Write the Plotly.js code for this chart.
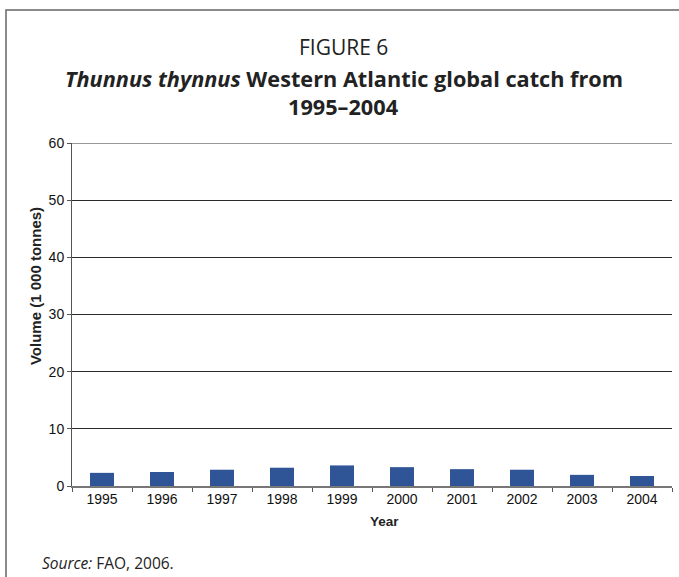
<!DOCTYPE html>
<html>
<head>
<meta charset="utf-8">
<script src="https://cdn.plot.ly/plotly-3.0.1.min.js"></script>
<style>
  html, body { margin: 0; padding: 0; background: #fff; }
  #chart { width: 679px; height: 577px; }
</style>
</head>
<body>
<div id="chart"></div>
<script>
// Western Atlantic bluefin tuna catch, thousand tonnes
const years = ['1995', '1996', '1997', '1998', '1999', '2000', '2001', '2002', '2003', '2004'];
const catchVolume = [2.3, 2.45, 2.85, 3.2, 3.6, 3.3, 2.95, 2.85, 1.95, 1.75];
const yTicks = [0, 10, 20, 30, 40, 50, 60];
const yMax = 60;

const tickFont = { family: 'Liberation Sans, Arial, sans-serif', size: 14, color: '#111' };

const trace = {
  type: 'bar',
  x: years,
  y: catchVolume,
  marker: { color: '#2f5597', line: { width: 0 } },
  hoverinfo: 'x+y'
};

const layout = {
  width: 679,
  height: 577,
  margin: { l: 72, r: 7, t: 143, b: 91 },
  paper_bgcolor: '#fff',
  plot_bgcolor: '#fff',
  showlegend: false,
  bargap: 0.6,
  xaxis: {
    type: 'category',
    tickson: 'boundaries',
    ticks: 'outside',
    ticklen: 4,
    tickcolor: '#555',
    showline: true,
    linecolor: '#777',
    linewidth: 1.5,
    showgrid: false,
    tickfont: tickFont,
    fixedrange: true
  },
  yaxis: {
    range: [0, yMax],
    tickvals: yTicks,
    ticks: 'outside',
    ticklen: 4,
    tickcolor: '#555',
    showline: true,
    linecolor: '#555',
    linewidth: 1,
    showgrid: true,
    gridcolor: '#2a2a2a',
    gridwidth: 1,
    zeroline: false,
    tickfont: tickFont,
    fixedrange: true
  },
  annotations: [
    {
      text: 'FIGURE 6',
      xref: 'paper', yref: 'paper', x: 0.453, y: 1.0, yshift: 96,
      xanchor: 'center', yanchor: 'middle', showarrow: false,
      font: { family: 'Open Sans, sans-serif', size: 21, color: '#222' }
    },
    {
      text: '<b><i>Thunnus thynnus</i> Western Atlantic global catch from</b>',
      xref: 'paper', yref: 'paper', x: 0.453, y: 1.0, yshift: 65,
      xanchor: 'center', yanchor: 'middle', showarrow: false,
      font: { family: 'Open Sans, sans-serif', size: 21.7, color: '#222' }
    },
    {
      text: '<b>1995–2004</b>',
      xref: 'paper', yref: 'paper', x: 0.453, y: 1.0, yshift: 37,
      xanchor: 'center', yanchor: 'middle', showarrow: false,
      font: { family: 'Open Sans, sans-serif', size: 21.7, color: '#222' }
    },
    {
      text: '<b>Volume (1 000 tonnes)</b>',
      xref: 'paper', yref: 'paper', x: 0, xshift: -37, y: 0.583,
      xanchor: 'center', yanchor: 'middle', textangle: -90, showarrow: false,
      font: { family: 'Liberation Sans, Arial, sans-serif', size: 15, color: '#222' }
    },
    {
      text: '<b>Year</b>',
      xref: 'paper', yref: 'paper', x: 0.52, y: 0, yshift: -35,
      xanchor: 'center', yanchor: 'middle', showarrow: false,
      font: { family: 'Liberation Sans, Arial, sans-serif', size: 13.5, color: '#222' }
    },
    {
      text: '<i>Source:</i> FAO, 2006.',
      xref: 'paper', yref: 'paper', x: 0, xshift: -32, y: 0, yshift: -77,
      xanchor: 'left', yanchor: 'middle', showarrow: false,
      font: { family: 'Open Sans, sans-serif', size: 15.5, color: '#222' }
    }
  ],
  shapes: [
    {
      // top gridline sits on the range edge, so draw it explicitly
      type: 'line', xref: 'paper', yref: 'y',
      x0: 0, x1: 1, y0: yMax, y1: yMax,
      line: { color: '#777', width: 1.5 }
    },
    {
      type: 'rect', xref: 'paper', yref: 'paper',
      x0: -0.11, x1: 1.05, y0: -0.3, y1: 1.388,
      line: { color: '#666', width: 1.5 }, fillcolor: 'rgba(0,0,0,0)', layer: 'above'
    }
  ]
};

Plotly.newPlot('chart', [trace], layout, { displayModeBar: false, staticPlot: true });
</script>
</body>
</html>
